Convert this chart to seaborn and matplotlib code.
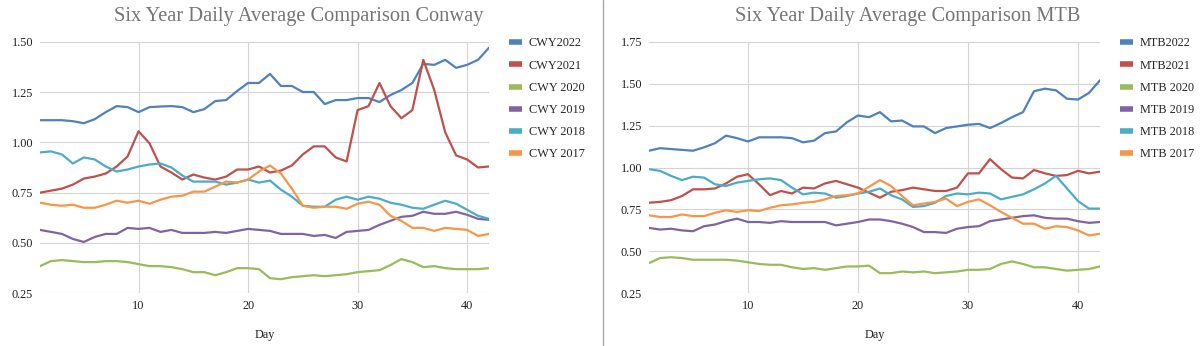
import numpy as np
import pandas as pd
import seaborn as sns
import matplotlib.pyplot as plt
from matplotlib.lines import Line2D

days = list(range(1, 43))

cwy_labels = ["CWY2022", "CWY2021", "CWY 2020", "CWY 2019", "CWY 2018", "CWY 2017"]
cwy2022 = [1.11, 1.11, 1.11, 1.105, 1.095, 1.115, 1.15, 1.18, 1.175, 1.15, 1.175, 1.178, 1.18, 1.175, 1.15,
           1.165, 1.205, 1.21, 1.255, 1.295, 1.295, 1.34, 1.28, 1.28, 1.25, 1.25, 1.19, 1.21, 1.21, 1.22,
           1.22, 1.20, 1.235, 1.26, 1.295, 1.39, 1.385, 1.41, 1.37, 1.385, 1.41, 1.47]
cwy2021 = [0.75, 0.76, 0.77, 0.79, 0.82, 0.83, 0.845, 0.88, 0.93, 1.055, 0.995, 0.88, 0.85, 0.815, 0.84,
           0.825, 0.815, 0.83, 0.865, 0.865, 0.88, 0.85, 0.86, 0.885, 0.94, 0.98, 0.98, 0.925, 0.905, 1.16,
           1.18, 1.295, 1.18, 1.12, 1.16, 1.41, 1.26, 1.05, 0.935, 0.915, 0.875, 0.88]
cwy2020 = [0.385, 0.41, 0.415, 0.41, 0.405, 0.405, 0.41, 0.41, 0.405, 0.395, 0.385, 0.385, 0.38, 0.37, 0.355,
           0.355, 0.34, 0.355, 0.375, 0.375, 0.37, 0.325, 0.32, 0.33, 0.335, 0.34, 0.335, 0.34, 0.345, 0.355,
           0.36, 0.365, 0.39, 0.42, 0.405, 0.38, 0.385, 0.375, 0.37, 0.37, 0.37, 0.375]
cwy2019 = [0.565, 0.555, 0.545, 0.52, 0.505, 0.53, 0.545, 0.545, 0.575, 0.57, 0.575, 0.555, 0.565, 0.55, 0.55,
           0.55, 0.555, 0.55, 0.56, 0.57, 0.565, 0.56, 0.545, 0.545, 0.545, 0.535, 0.54, 0.525, 0.555, 0.56,
           0.565, 0.59, 0.61, 0.63, 0.635, 0.655, 0.645, 0.645, 0.655, 0.64, 0.62, 0.615]
cwy2018 = [0.95, 0.955, 0.94, 0.895, 0.925, 0.915, 0.88, 0.855, 0.865, 0.88, 0.89, 0.895, 0.875, 0.835, 0.805,
           0.805, 0.805, 0.79, 0.80, 0.815, 0.80, 0.81, 0.765, 0.73, 0.685, 0.68, 0.68, 0.715, 0.73, 0.715,
           0.73, 0.72, 0.70, 0.69, 0.675, 0.67, 0.69, 0.71, 0.695, 0.665, 0.635, 0.62]
cwy2017 = [0.70, 0.69, 0.685, 0.69, 0.675, 0.675, 0.69, 0.71, 0.70, 0.71, 0.695, 0.715, 0.73, 0.735, 0.755,
           0.755, 0.78, 0.805, 0.80, 0.815, 0.855, 0.885, 0.845, 0.77, 0.685, 0.675, 0.68, 0.68, 0.67, 0.695,
           0.705, 0.69, 0.635, 0.61, 0.575, 0.575, 0.56, 0.575, 0.57, 0.565, 0.535, 0.545]

mtb_labels = ["MTB2022", "MTB2021", "MTB 2020", "MTB 2019", "MTB 2018", "MTB 2017"]
mtb2022 = [1.10, 1.115, 1.11, 1.105, 1.10, 1.12, 1.145, 1.19, 1.175, 1.155, 1.18, 1.18, 1.18, 1.175, 1.15,
           1.16, 1.205, 1.215, 1.27, 1.31, 1.30, 1.33, 1.275, 1.28, 1.245, 1.245, 1.205, 1.235, 1.245, 1.255,
           1.26, 1.235, 1.265, 1.30, 1.33, 1.455, 1.47, 1.46, 1.41, 1.405, 1.445, 1.52]
mtb2021 = [0.79, 0.795, 0.805, 0.83, 0.87, 0.87, 0.875, 0.905, 0.945, 0.96, 0.90, 0.835, 0.86, 0.845, 0.88,
           0.875, 0.905, 0.92, 0.90, 0.88, 0.85, 0.82, 0.855, 0.865, 0.88, 0.87, 0.86, 0.86, 0.88, 0.965,
           0.965, 1.05, 0.99, 0.94, 0.935, 0.985, 0.965, 0.95, 0.955, 0.98, 0.965, 0.975]
mtb2020 = [0.43, 0.46, 0.465, 0.46, 0.45, 0.45, 0.45, 0.45, 0.445, 0.435, 0.425, 0.42, 0.42, 0.405, 0.395,
           0.40, 0.39, 0.40, 0.41, 0.41, 0.415, 0.37, 0.37, 0.38, 0.375, 0.38, 0.37, 0.375, 0.38, 0.39,
           0.39, 0.395, 0.425, 0.44, 0.425, 0.405, 0.405, 0.395, 0.385, 0.39, 0.395, 0.41]
mtb2019 = [0.64, 0.63, 0.635, 0.625, 0.62, 0.65, 0.66, 0.68, 0.695, 0.675, 0.675, 0.67, 0.68, 0.675, 0.675,
           0.675, 0.675, 0.655, 0.665, 0.675, 0.69, 0.69, 0.68, 0.665, 0.645, 0.615, 0.615, 0.61, 0.635, 0.645,
           0.65, 0.68, 0.69, 0.70, 0.71, 0.715, 0.70, 0.695, 0.695, 0.68, 0.67, 0.675]
mtb2018 = [0.99, 0.98, 0.95, 0.925, 0.945, 0.94, 0.90, 0.89, 0.91, 0.92, 0.93, 0.935, 0.925, 0.88, 0.84,
           0.85, 0.845, 0.82, 0.83, 0.845, 0.855, 0.875, 0.835, 0.81, 0.765, 0.77, 0.79, 0.83, 0.845, 0.84,
           0.85, 0.845, 0.81, 0.825, 0.84, 0.87, 0.905, 0.95, 0.875, 0.80, 0.755, 0.755]
mtb2017 = [0.715, 0.705, 0.705, 0.72, 0.71, 0.71, 0.73, 0.745, 0.735, 0.745, 0.74, 0.76, 0.775, 0.78, 0.79,
           0.795, 0.81, 0.83, 0.835, 0.845, 0.885, 0.925, 0.89, 0.83, 0.775, 0.785, 0.795, 0.815, 0.77, 0.795,
           0.81, 0.775, 0.735, 0.70, 0.665, 0.665, 0.635, 0.65, 0.645, 0.625, 0.595, 0.605]

colors = ["#4F81BD", "#C0504D", "#9BBB59", "#8064A2", "#4BACC6", "#F79646"]

sns.set_style("whitegrid", {"grid.color": "#D0D0D0", "axes.edgecolor": "white"})
plt.rcParams['font.family'] = ['Liberation Serif', 'DejaVu Serif']

def long_df(labels, series):
    frames = []
    for lab, vals in zip(labels, series):
        frames.append(pd.DataFrame({"Day": days, "value": vals, "series": lab}))
    return pd.concat(frames, ignore_index=True)

df_cwy = long_df(cwy_labels, [cwy2022, cwy2021, cwy2020, cwy2019, cwy2018, cwy2017])
df_mtb = long_df(mtb_labels, [mtb2022, mtb2021, mtb2020, mtb2019, mtb2018, mtb2017])

W, H = 1200, 346
fig = plt.figure(figsize=(12, 3.46), dpi=100)
top_px, bot_px = 41.7, 293.3
ax1 = fig.add_axes([40/W, 1 - bot_px/H, 449/W, (bot_px-top_px)/H])
ax2 = fig.add_axes([649/W, 1 - bot_px/H, 451/W, (bot_px-top_px)/H])

FS = 8.8

def draw(ax, df, labels, title, ylim, yticks, leg_x, title_x, day_x):
    sns.lineplot(data=df, x="Day", y="value", hue="series", hue_order=labels,
                 palette=colors, linewidth=1.6, ax=ax, legend=False)
    ax.set_xlim(1, 42)
    ax.set_ylim(*ylim)
    ax.set_xticks([10, 20, 30, 40])
    ax.set_yticks(yticks)
    ax.set_yticklabels([f"{t:.2f}" for t in yticks])
    ax.tick_params(axis='both', length=0, labelsize=FS, colors="#222222", pad=5)
    ax.set_ylabel("")
    ax.set_xlabel("")
    for s in ax.spines.values():
        s.set_visible(False)
    ax.grid(True, color="#D4D4D4", linewidth=0.8)
    fig.text(title_x, 1 - 20.7/H, title, ha="center", va="baseline", fontsize=14.7, color="#757575")
    fig.text(day_x, 1 - 335/H, "Day", ha="center", va="center", fontsize=FS, color="#222222")
    handles = [Line2D([0], [0], color=c, linewidth=4, solid_capstyle='butt') for c in colors]
    ax.legend(handles, labels, loc="upper left", bbox_to_anchor=(leg_x, 1 - 37.5/H),
              bbox_transform=fig.transFigure, frameon=False, fontsize=FS,
              handlelength=1.05, handletextpad=0.55, labelspacing=0.83,
              borderaxespad=0, borderpad=0)

draw(ax1, df_cwy, cwy_labels, "Six Year Daily Average Comparison Conway", (0.25, 1.5),
     [0.25, 0.5, 0.75, 1.0, 1.25, 1.5], 509/W, 299/W, 265/W)
draw(ax2, df_mtb, mtb_labels, "Six Year Daily Average Comparison MTB", (0.25, 1.75),
     [0.25, 0.5, 0.75, 1.0, 1.25, 1.5, 1.75], 1120/W, 908/W, 875/W)

fig.add_artist(Line2D([602.5/W, 602.5/W], [0, 1], transform=fig.transFigure,
                      color="#A8A8A8", linewidth=1.0))

fig.savefig("out.png", dpi=100, facecolor="white")
